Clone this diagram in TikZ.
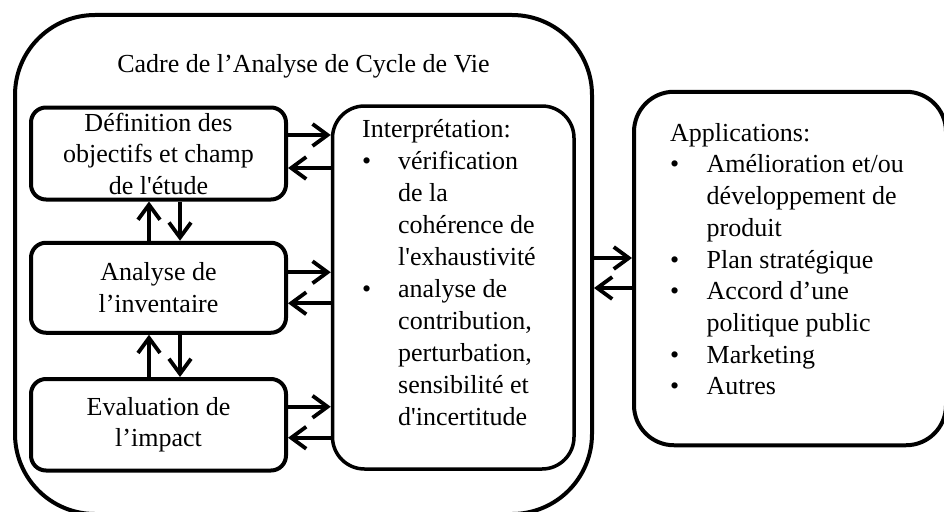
\documentclass[tikz,border=0pt]{standalone}
\usepackage{fontspec}
\setmainfont{Liberation Serif}[Ligatures=TeXOff]
\usetikzlibrary{arrows.meta}
\newcommand\mybul{\makebox[36pt][l]{•}}
\newcommand\myind{\hspace*{36pt}}
\newcommand\mybulb{\makebox[36.5pt][l]{•}}
\newcommand\myindb{\hspace*{36.5pt}}
\begin{document}
\begin{tikzpicture}[x=1pt,y=-1pt,
  lbox/.style={draw, line width=4pt, rounded corners=15pt, minimum width=255pt,
    align=center, font=\fontsize{26}{31.5}\selectfont, inner sep=0pt},
  bigbox/.style={draw, line width=4pt, inner sep=0pt},
  arr/.style={line width=3.8pt, -{Straight Barb[length=15pt,width=22pt]}},
  txt/.style={font=\fontsize{26}{32}\selectfont, align=left, inner sep=0pt, anchor=north west}]
\useasboundingbox (0,0) rectangle (944,511);
\clip (0,0) rectangle (944,511);

% outer frame
\node[bigbox, rounded corners=80pt, minimum width=577pt, minimum height=499pt] (frame) at (303.5,264.5) {};
\node[font=\fontsize{26}{32}\selectfont, anchor=base, inner sep=0pt] (title) at (303.5,73) {Cadre de l’Analyse de Cycle de Vie};

% left boxes
\node[lbox, minimum height=92pt] (def) at (158.5,153.5) {Définition des\\objectifs et champ\\de l'étude};
\node[lbox, minimum height=90pt] (inv) at (158.5,287.75) {Analyse de\\l’inventaire};
\node[lbox, minimum height=91.5pt] (imp) at (158.5,424.75) {Evaluation de\\l’impact};

% interpretation
\node[bigbox, line width=3.5pt, rounded corners=32pt, minimum width=241.5pt, minimum height=363pt] (interp) at (453.25,287.5) {};
\node[txt] (interptxt) at (362,117) {\rule{0pt}{20pt}Interprétation:\\\mybul vérification\\\myind de la\\\myind cohérence de\\\myind l'exhaustivité\\\mybul analyse de\\\myind contribution,\\\myind perturbation,\\\myind sensibilité et\\\myind d'incertitude};

% applications
\node[bigbox, rounded corners=40pt, minimum width=312pt, minimum height=353.5pt] (apps) at (790,268.5) {};
\node[txt, font=\fontsize{26}{31.7}\selectfont] (appstxt) at (670,121) {\rule{0pt}{20pt}Applications:\\\mybulb Amélioration et/ou\\\myindb développement de\\\myindb produit\\\mybulb Plan stratégique\\\mybulb Accord d’une\\\myindb politique public\\\mybulb Marketing\\\mybulb Autres};

% horizontal arrows left boxes <-> interpretation
\draw[arr] ([yshift=18.5pt]def.east) -- ([yshift=18.5pt]def.east -| interp.west);
\draw[arr] ([yshift=-14.5pt]def.east -| interp.west) -- ([yshift=-14.5pt]def.east);
\draw[arr] ([yshift=15.5pt]inv.east) -- ([yshift=15.5pt]inv.east -| interp.west);
\draw[arr] ([yshift=-15.5pt]inv.east -| interp.west) -- ([yshift=-15.5pt]inv.east);
\draw[arr] ([yshift=18pt]imp.east) -- ([yshift=18pt]imp.east -| interp.west);
\draw[arr] ([yshift=-13pt]imp.east -| interp.west) -- ([yshift=-13pt]imp.east);

% vertical arrows
\draw[arr] ([xshift=-9.5pt]inv.north) -- ([xshift=-9.5pt]def.south);
\draw[arr] ([xshift=21.5pt]def.south) -- ([xshift=21.5pt]inv.north);
\draw[arr] ([xshift=-9.5pt]imp.north) -- ([xshift=-9.5pt]inv.south);
\draw[arr] ([xshift=21.5pt]inv.south) -- ([xshift=21.5pt]imp.north);

% frame <-> applications
\draw[arr] ([yshift=6.5pt]frame.east) -- ([yshift=6.5pt]frame.east -| apps.west);
\draw[arr] ([yshift=-23.5pt]frame.east -| apps.west) -- ([yshift=-23.5pt]frame.east);
\end{tikzpicture}
\end{document}
